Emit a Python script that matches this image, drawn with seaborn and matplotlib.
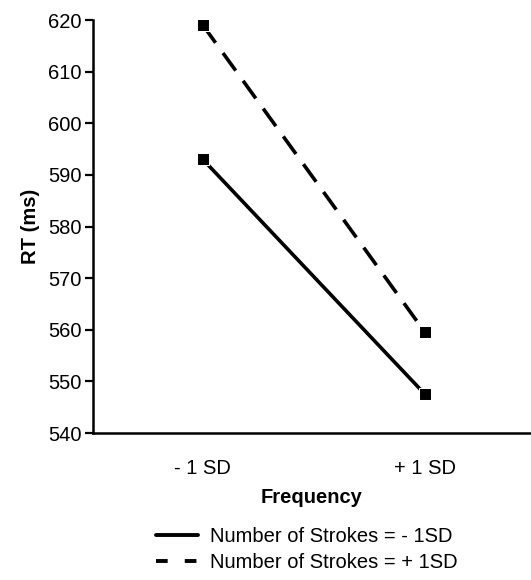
import matplotlib
matplotlib.use("Agg")
import matplotlib.pyplot as plt
import seaborn as sns
import pandas as pd
from matplotlib.lines import Line2D

frequency = ["- 1 SD", "+ 1 SD"]
strokes_low = [593, 547.5]
strokes_high = [619, 559.5]
series_names = ["Number of Strokes = - 1SD", "Number of Strokes = + 1SD"]
yticks = [540, 550, 560, 570, 580, 590, 600, 610, 620]

df = pd.DataFrame({
    "Frequency": frequency * 2,
    "x": [0, 1, 0, 1],
    "RT": strokes_low + strokes_high,
    "Series": [series_names[0]] * 2 + [series_names[1]] * 2,
})

sns.set_style("white")
plt.rcParams["font.family"] = ["Liberation Sans", "DejaVu Sans"]
plt.rcParams["text.color"] = "black"
plt.rcParams["axes.labelcolor"] = "black"
plt.rcParams["xtick.color"] = "black"
plt.rcParams["ytick.color"] = "black"

fig = plt.figure(figsize=(5.31, 5.8), dpi=100)
ax = fig.add_axes([0.175, 0.2534, 0.825, 0.712])

dash_style = (6.0, 3.5)
sns.lineplot(data=df, x="x", y="RT", style="Series", markers=["s", "s"],
             dashes=["", dash_style], color="black", linewidth=2.6,
             markersize=8, legend=False, ax=ax)

ax.set_xlim(-0.495, 1.477)
ax.set_ylim(540, 620)
ax.set_yticks(yticks)
ax.set_xticks([0, 1])
ax.set_xticklabels(frequency)
ax.tick_params(axis="y", direction="out", length=6, width=1.6, labelsize=14.5, pad=2, left=True)
ax.tick_params(axis="x", length=0, labelsize=14.5, pad=19)
for s in ["top", "right"]:
    ax.spines[s].set_visible(False)
for s in ["left", "bottom"]:
    ax.spines[s].set_linewidth(1.8)
    ax.spines[s].set_color("black")
ax.set_xlabel("Frequency", fontsize=14.5, fontweight="bold", labelpad=7)
ax.set_ylabel("RT (ms)", fontsize=14.5, fontweight="bold", labelpad=6)

handles = [
    Line2D([], [], color="black", linewidth=2.8),
    Line2D([], [], color="black", linewidth=2.8, dashes=(3.0, 4.4)),
]
fig.legend(handles, series_names, loc="center", bbox_to_anchor=(0.578, 0.0525),
           frameon=False, fontsize=14.5, handlelength=2.1, handletextpad=0.6,
           labelspacing=0.35)

fig.savefig("out.png", dpi=100, facecolor="white")
